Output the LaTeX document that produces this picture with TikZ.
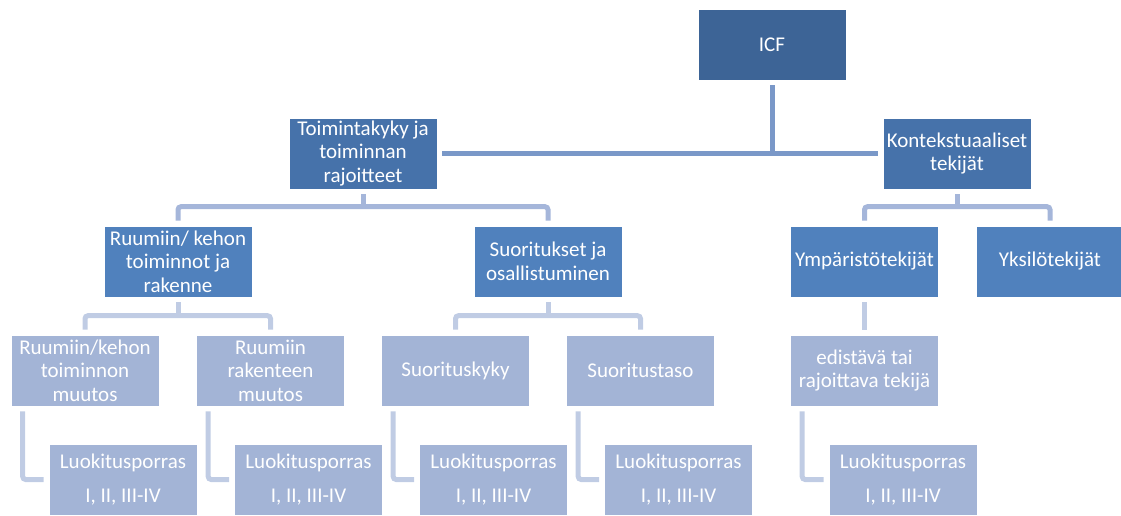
\documentclass[tikz,border=0pt]{standalone}
\usepackage{fontspec}
\setmainfont{Carlito}
\definecolor{TopClr}{rgb}{0.239,0.392,0.588}
\definecolor{MainClr}{rgb}{0.275,0.447,0.667}
\definecolor{SubClr}{rgb}{0.314,0.506,0.741}
\definecolor{LeafClr}{rgb}{0.639,0.706,0.839}
\definecolor{LinkAClr}{rgb}{0.478,0.596,0.784}
\definecolor{LinkBClr}{rgb}{0.647,0.714,0.855}
\definecolor{LinkCClr}{rgb}{0.753,0.800,0.894}

\begin{document}
\begin{tikzpicture}[x=1pt,y=-1pt,
  box/.style={minimum width=148pt,minimum height=71pt,inner sep=1pt,align=center,
    text=white,font=\fontsize{21}{23.5}\selectfont,draw=white,line width=0.6pt},
  link/.style={line width=5pt,rounded corners=3pt},
  linkA/.style={link,color=LinkAClr},
  linkB/.style={link,color=LinkBClr},
  linkC/.style={link,color=LinkCClr}]
\useasboundingbox (0,0) rectangle (1121,515);

\node[box,fill=TopClr] (icf) at (772,44.5) {ICF};

\node[box,fill=MainClr] (toim) at (363,153.5) {Toimintakyky ja\\toiminnan\\rajoitteet};
\node[box,fill=MainClr] (kont) at (957,153.5) {Kontekstuaaliset\\tekijät};

\node[box,fill=SubClr] (ruum) at (178,261.5) {Ruumiin/ kehon\\toiminnot ja\\rakenne};
\node[box,fill=SubClr] (suor) at (548,261.5) {Suoritukset ja\\osallistuminen};
\node[box,fill=SubClr] (ymp) at (864.5,261.5) {Ympäristötekijät};
\node[box,fill=SubClr] (yks) at (1050,261.5) {Yksilötekijät};

\node[box,fill=LeafClr] (toimm) at (85,370.5) {Ruumiin/kehon\\toiminnon\\muutos};
\node[box,fill=LeafClr] (rak) at (270.5,370.5) {Ruumiin\\rakenteen\\muutos};
\node[box,fill=LeafClr] (kyky) at (455.5,370.5) {Suorituskyky};
\node[box,fill=LeafClr] (taso) at (640.5,370.5) {Suoritustaso};
\node[box,fill=LeafClr] (edis) at (864.5,370.5) {edistävä tai\\rajoittava tekijä};

\foreach \n/\x in {lkA/123,lkB/308.5,lkC/493.5,lkD/678.5,lkE/903}
  \node[box,fill=LeafClr] (\n) at (\x,479.5) {Luokitusporras\\[10.5pt]I, II, III-IV};

\draw[linkA] ([yshift=-5pt]icf.south) -- (icf |- toim.east);
\draw[linkA] ([xshift=5pt]toim.east) -- ([xshift=-5pt]kont.west);

\draw[linkB] ([yshift=-5pt]toim.south) -- ++(0,13);
\draw[linkB] ([yshift=5pt]ruum.north) -- ++(0,-14) -| ([yshift=5pt]suor.north);
\draw[linkB] ([yshift=-5pt]kont.south) -- ++(0,13);
\draw[linkB] ([yshift=5pt]ymp.north) -- ++(0,-14) -| ([yshift=5pt]yks.north);

\draw[linkC] ([yshift=-5pt]ruum.south) -- ++(0,14);
\draw[linkC] ([yshift=5pt]toimm.north) -- ++(0,-14) -| ([yshift=5pt]rak.north);
\draw[linkC] ([yshift=-5pt]suor.south) -- ++(0,14);
\draw[linkC] ([yshift=5pt]kyky.north) -- ++(0,-14) -| ([yshift=5pt]taso.north);
\draw[linkC] ([yshift=-5pt]ymp.south) -- ([yshift=5pt]edis.north);

\foreach \a/\b in {toimm/lkA,rak/lkB,kyky/lkC,taso/lkD,edis/lkE}
  \draw[linkC] ([xshift=12pt,yshift=-5pt]\a.south west) |- ([xshift=-5pt]\b.west);

\end{tikzpicture}
\end{document}
